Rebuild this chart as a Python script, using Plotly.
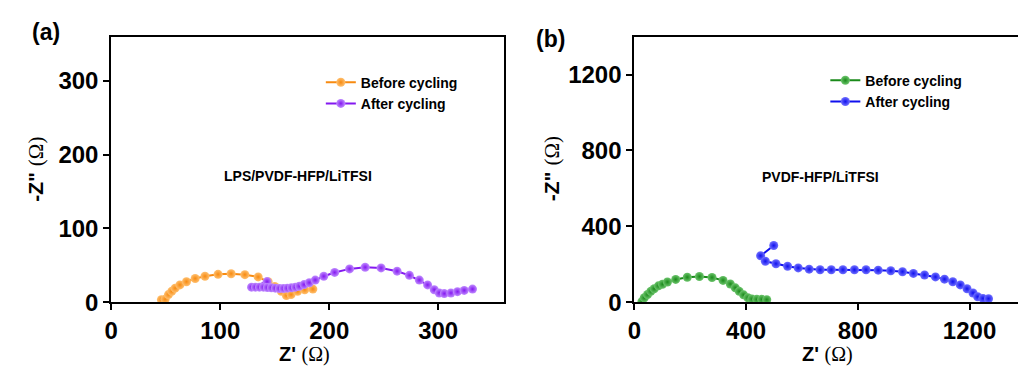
import plotly.graph_objects as go

# Panel (a): LPS/PVDF-HFP/LiTFSI
a_before_x = [46, 49.4, 52.5, 55.5, 58.6, 63, 69, 77, 86, 98, 110, 122.6, 134.8, 144, 150, 156, 160.7, 165, 171, 177.5, 185]
a_before_y = [3.5, 3.9, 10.4, 14.8, 19.1, 23.5, 27.8, 32.2, 35.2, 37.8, 38.7, 37.4, 34.3, 27.8, 21.3, 14.8, 9, 10.4, 14.8, 17, 17.8]
a_after_x = [143, 128.7, 132.3, 136, 139.7, 143.3, 147, 150.6, 154.3, 158, 161.6, 165.3, 169, 172.6, 176.9, 181.7, 187.2, 195, 205, 218.7, 233,
             247.6, 262.3, 273.6, 282.7, 290.3, 296.4, 301, 305.6, 311.7, 317.7, 323.9, 331.5]
a_after_y = [28, 20.4, 20.4, 20.4, 20.4, 20, 19.6, 19.1, 18.7, 18.7, 19.1, 19.6, 20.4, 21.7, 23.9, 26.5, 30, 35.2, 40.4, 45.2, 47.4,
             46.5, 42.1, 36.5, 30, 23.5, 17, 12.6, 11.7, 12.6, 14.3, 16, 17.8]

# Panel (b): PVDF-HFP/LiTFSI
b_before_x = [27, 35.5, 47.3, 59, 71, 86.4, 100.6, 118.4, 148, 189.5, 233, 278, 317.5, 343.5, 361.3, 375.5, 391, 406.4, 420.6, 438.4, 456, 474]
b_before_y = [3.5, 23.6, 40.6, 57.4, 71, 86.3, 94.9, 106.6, 120.3, 132, 135.5, 130.5, 115.2, 96.4, 76, 57.4, 39, 23.6, 17, 15.2, 15.2, 13.5]
b_after_x = [499, 452, 469, 507, 548.6, 586.7, 625.8, 665, 705, 746.7, 788, 829.5, 873, 918, 960, 999, 1039, 1078, 1110.4, 1140,
             1167, 1191, 1212.4, 1229, 1248, 1268]
b_after_y = [299, 245, 216, 203, 189.5, 181, 174.3, 171, 171, 171, 171, 171, 169, 166, 161, 152, 143.7, 133.5, 121.8, 108,
             91.4, 71, 49, 28.9, 20.3, 18.6]

a_ticks = [0, 100, 200, 300]
b_ticks = [0, 400, 800, 1200]

FONT = "Liberation Sans"
W, H = 1018, 378


def px(x):
    return x / W


def py(y):
    return 1 - y / H


def series(x, y, name, color, light, xa, ya, legend):
    return go.Scatter(
        x=x, y=y, name=name, mode="lines+markers", xaxis=xa, yaxis=ya, legend=legend,
        line=dict(color=color, width=2),
        marker=dict(size=9, color=light, gradient=dict(type="radial", color=color), line=dict(width=0)),
    )


fig = go.Figure()
fig.add_trace(series(a_before_x, a_before_y, "Before cycling", "#F78A10", "#FFC070", "x", "y", "legend"))
fig.add_trace(series(a_after_x, a_after_y, "After cycling", "#8418F0", "#C08CFF", "x", "y", "legend"))
fig.add_trace(series(b_before_x, b_before_y, "Before cycling", "#1A8A1A", "#6CC46C", "x2", "y2", "legend2"))
fig.add_trace(series(b_after_x, b_after_y, "After cycling", "#1010EE", "#7070FF", "x2", "y2", "legend2"))

axis_common = dict(
    showline=True, linecolor="black", linewidth=2, ticks="outside", ticklen=6, tickwidth=2,
    tickcolor="black", showgrid=False, zeroline=False,
    tickfont=dict(family=FONT, size=24, color="black", weight="bold"),
)

fig.update_layout(
    width=W, height=H, margin=dict(l=0, r=0, t=0, b=0),
    paper_bgcolor="white", plot_bgcolor="white",
    xaxis=dict(domain=[px(105), px(500)], range=[0, 360], tickvals=a_ticks, mirror=True, anchor="y", **axis_common),
    yaxis=dict(domain=[py(313), py(38)], range=[0, 360], tickvals=a_ticks, mirror=True, anchor="x", **axis_common),
    xaxis2=dict(domain=[px(631.7), 1.0], range=[0, 1373.5], tickvals=b_ticks, mirror=True, anchor="y2", **axis_common),
    yaxis2=dict(domain=[py(313), py(38)], range=[0, 1400], tickvals=b_ticks, mirror=False, anchor="x2", **axis_common),
    legend=dict(x=px(316), y=py(69), xanchor="left", yanchor="top", bgcolor="rgba(0,0,0,0)",
                font=dict(family=FONT, size=14, color="black", weight="bold"), tracegroupgap=0, itemwidth=30),
    legend2=dict(x=px(824), y=py(67), xanchor="left", yanchor="top", bgcolor="rgba(0,0,0,0)",
                 font=dict(family=FONT, size=14, color="black", weight="bold"), tracegroupgap=0, itemwidth=30),
    showlegend=True,
)

omega = "<span style=\"font-family:Liberation Serif;font-weight:normal\">(Ω)</span>"
title_font = dict(family=FONT, size=20, color="black")
common_ann = dict(showarrow=False, xanchor="center", yanchor="middle")
annotations = [
    dict(text="<b>(a)</b>", x=px(39), y=py(33), xref="paper", yref="paper",
         font=dict(family=FONT, size=23, color="black"), **common_ann),
    dict(text="<b>(b)</b>", x=px(547), y=py(40), xref="paper", yref="paper",
         font=dict(family=FONT, size=23, color="black"), **common_ann),
    dict(text="<b>Z'</b> " + omega, x=px(300), y=py(367), xref="paper", yref="paper", font=title_font, **common_ann),
    dict(text="<b>Z'</b> " + omega, x=px(826), y=py(367), xref="paper", yref="paper", font=title_font, **common_ann),
    dict(text="<b>-Z\"</b> " + omega, x=px(29), y=py(175), xref="paper", yref="paper",
         textangle=-90, font=dict(family=FONT, size=21, color="black"), **common_ann),
    dict(text="<b>-Z\"</b> " + omega, x=px(549), y=py(175), xref="paper", yref="paper",
         textangle=-90, font=dict(family=FONT, size=21, color="black"), **common_ann),
    dict(text="<b>LPS/PVDF-HFP/LiTFSI</b>", x=171, y=171, xref="x", yref="y",
         font=dict(family=FONT, size=14, color="black"), **common_ann),
    dict(text="<b>PVDF-HFP/LiTFSI</b>", x=666, y=660, xref="x2", yref="y2",
         font=dict(family=FONT, size=14, color="black"), **common_ann),
]
fig.update_layout(annotations=annotations)

fig.write_html("out.html")
